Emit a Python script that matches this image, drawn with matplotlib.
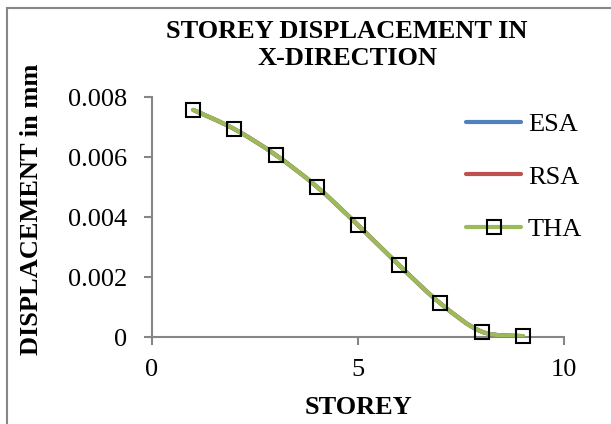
import numpy as np
import matplotlib
matplotlib.use("Agg")
import matplotlib.pyplot as plt
from matplotlib.path import Path
from matplotlib.patches import PathPatch, Rectangle
from matplotlib.lines import Line2D

plt.rcParams['font.family'] = ['Liberation Serif', 'DejaVu Serif']

# Storey displacement values (mm)
storey = [1, 2, 3, 4, 5, 6, 7, 8, 9]
esa = [0.00757, 0.00693, 0.00607, 0.00501, 0.00373, 0.00239, 0.00112, 0.00018, 0.00003]
rsa = [0.00757, 0.00693, 0.00607, 0.00501, 0.00373, 0.00239, 0.00112, 0.00018, 0.00003]
tha = [0.00757, 0.00693, 0.00607, 0.00501, 0.00373, 0.00239, 0.00112, 0.00018, 0.00003]

x_ticks = [0, 5, 10]
y_ticks = [0, 0.002, 0.004, 0.006, 0.008]
y_tick_labels = ['0', '0.002', '0.004', '0.006', '0.008']

colors = {'ESA': '#4F81BD', 'RSA': '#C0504D', 'THA': '#9BBB59'}
axis_gray = '#868686'
fs = 19


def smooth_path(xs, ys):
    # Excel-style smoothed line: cubic Bezier segments through each point
    pts = np.column_stack([xs, ys]).astype(float)
    n = len(pts)
    verts = [pts[0]]
    codes = [Path.MOVETO]
    for i in range(n - 1):
        p0 = pts[i - 1] if i > 0 else pts[i]
        p1 = pts[i]
        p2 = pts[i + 1]
        p3 = pts[i + 2] if i + 2 < n else pts[i + 1]
        c1 = p1 + (p2 - p0) / 6.0
        c2 = p2 - (p3 - p1) / 6.0
        verts += [c1, c2, p2]
        codes += [Path.CURVE4] * 3
    return Path(verts, codes)


fig = plt.figure(figsize=(6.11, 4.24), dpi=100)
ax = fig.add_axes([152 / 611, 1 - 337 / 424, (564 - 152) / 611, (337 - 97) / 424])

lw = 3.0
for name, vals in [('ESA', esa), ('RSA', rsa), ('THA', tha)]:
    patch = PathPatch(smooth_path(storey, vals), facecolor='none',
                      edgecolor=colors[name], lw=lw, capstyle='round',
                      joinstyle='round', zorder=3)
    ax.add_patch(patch)

ax.plot(storey, tha, linestyle='none', marker='s', markersize=9.5,
        markerfacecolor='none', markeredgecolor='black', markeredgewidth=1.5,
        zorder=4, clip_on=False)

ax.set_xlim(0, 10)
ax.set_ylim(0, 0.008)
ax.set_xticks(x_ticks)
ax.set_yticks(y_ticks)
ax.set_yticklabels(y_tick_labels)

for side in ['top', 'right']:
    ax.spines[side].set_visible(False)
for side in ['left', 'bottom']:
    ax.spines[side].set_color(axis_gray)
    ax.spines[side].set_linewidth(1.5)
ax.tick_params(axis='both', direction='out', length=6, width=1.5,
               color=axis_gray, labelsize=fs, labelcolor='black')
ax.tick_params(axis='y', pad=12)
ax.tick_params(axis='x', pad=10)

ax.set_xlabel('STOREY', fontsize=fs, fontweight='bold', labelpad=11)
ax.set_ylabel('DISPLACEMENT in mm', fontsize=fs, fontweight='bold')
ax.yaxis.set_label_coords(-0.264, 0.53)

fig.text(347 / 611, 1 - 45 / 424, 'STOREY DISPLACEMENT IN\nX-DIRECTION',
         ha='center', va='center', fontsize=fs, fontweight='bold',
         linespacing=1.2)

handles = [
    Line2D([], [], color=colors['ESA'], lw=lw, solid_capstyle='round'),
    Line2D([], [], color=colors['RSA'], lw=lw, solid_capstyle='round'),
    Line2D([], [], color=colors['THA'], lw=lw, solid_capstyle='round',
           marker='s', markersize=9.5, markerfacecolor='none',
           markeredgecolor='black', markeredgewidth=1.5),
]
fig.legend(handles, ['ESA', 'RSA', 'THA'], loc='upper left',
           bbox_to_anchor=(466 / 611, 1 - 113 / 424), frameon=False,
           fontsize=fs, handlelength=2.1, handletextpad=0.25,
           labelspacing=1.09, numpoints=1, borderaxespad=0, borderpad=0)

# chart area border
fig.patches.append(Rectangle((7 / 611, -0.1), 1.2, 1 - 8 / 424 + 0.1,
                             transform=fig.transFigure, fill=False,
                             edgecolor=axis_gray, lw=1.5, zorder=0))

fig.savefig('out.png', dpi=100)
